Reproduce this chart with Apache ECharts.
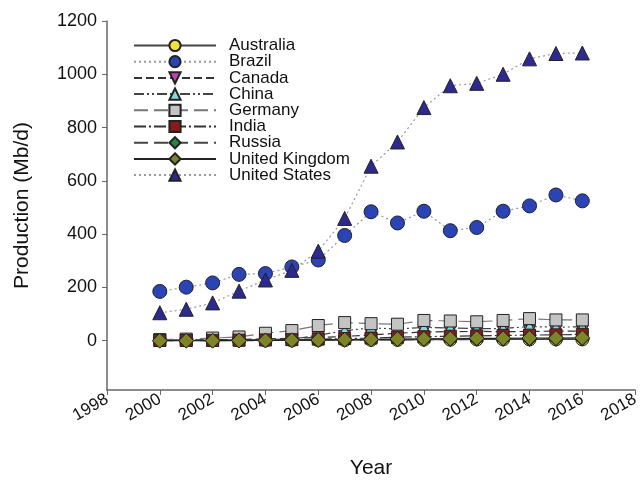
<!DOCTYPE html>
<html>
<head>
<meta charset="utf-8">
<script src="https://cdn.jsdelivr.net/npm/echarts@6/dist/echarts.min.js"></script>
<style>
html, body { margin: 0; padding: 0; background: #fff; }
#chart { width: 642px; height: 484px; }
</style>
</head>
<body>
<div id="chart"></div>
<script>
// production by country, Mb/d
const years = [2000, 2001, 2002, 2003, 2004, 2005, 2006, 2007, 2008, 2009, 2010, 2011, 2012, 2013, 2014, 2015, 2016];
const australia = [1, 1, 1, 1, 1, 1, 2, 2, 3, 3, 4, 4, 5, 5, 5, 5, 5];
const brazil = [185, 201, 217, 249, 252, 277, 303, 395, 484, 442, 486, 413, 425, 486, 506, 547, 525];
const canada = [2, 3, 4, 5, 7, 9, 12, 16, 22, 28, 33, 34, 35, 34, 35, 36, 36];
const china = [1, 1, 2, 3, 4, 6, 20, 38, 48, 44, 50, 48, 45, 46, 53, 51, 52];
const germany = [4, 6, 10, 14, 28, 38, 57, 68, 64, 62, 76, 74, 71, 76, 83, 78, 78];
const india = [1, 1, 1, 2, 3, 4, 6, 8, 10, 13, 15, 17, 18, 20, 21, 22, 24];
const russia = [0, 0, 0, 0, 1, 1, 2, 2, 3, 3, 4, 4, 5, 5, 5, 5, 6];
const unitedKingdom = [0, 0, 0, 1, 1, 2, 3, 4, 5, 6, 7, 8, 9, 9, 10, 10, 11];
const unitedStates = [105, 118, 142, 186, 228, 264, 336, 459, 655, 746, 875, 957, 966, 1000, 1058, 1078, 1080];
const yTicks = [0, 200, 400, 600, 800, 1000, 1200];

const font = '"Liberation Sans", Arial, sans-serif';

function pairs(vals) {
    return years.map((y, i) => [y, vals[i]]);
}

function makeSeries(name, vals, symbol, size, fill, lineColor, lineType, rotate) {
    return {
        name: name,
        type: 'line',
        data: pairs(vals),
        symbol: symbol,
        symbolSize: size,
        symbolRotate: rotate || 0,
        itemStyle: { color: fill, borderColor: '#222', borderWidth: 1 },
        lineStyle: { color: lineColor, width: 1.2, type: lineType },
        emphasis: { disabled: true },
        animation: false
    };
}

const chart = echarts.init(document.getElementById('chart'));
chart.setOption({
    backgroundColor: '#fff',
    textStyle: { fontFamily: font },
    grid: { left: 107, right: 6, top: 21, bottom: 92 },
    legend: {
        orient: 'vertical',
        left: 128,
        top: 32,
        itemWidth: 82,
        itemHeight: 14,
        itemGap: -0.8,
        textStyle: { fontFamily: font, fontSize: 17, color: '#111', lineHeight: 16.3, padding: [0, 0, 0, 8] }
    },
    xAxis: {
        type: 'value',
        min: 1998,
        max: 2018,
        interval: 2,
        name: 'Year',
        nameLocation: 'middle',
        nameGap: 68,
        nameTextStyle: { fontFamily: font, fontSize: 21, color: '#111' },
        splitLine: { show: false },
        axisLine: { onZero: false, lineStyle: { color: '#666', width: 1.5 } },
        axisTick: { length: 5, lineStyle: { color: '#666' } },
        axisLabel: {
            rotate: 30,
            margin: 8,
            fontFamily: font,
            fontSize: 17,
            color: '#111',
            formatter: v => String(v)
        }
    },
    yAxis: {
        type: 'value',
        min: -185,
        max: 1200,
        name: 'Production (Mb/d)',
        nameLocation: 'middle',
        nameGap: 74,
        nameTextStyle: { fontFamily: font, fontSize: 21, color: '#111' },
        splitLine: { show: false },
        axisLine: { show: true, lineStyle: { color: '#666', width: 1.5 } },
        axisTick: { show: true, length: 5, customValues: yTicks, lineStyle: { color: '#666' } },
        axisLabel: {
            customValues: yTicks,
            margin: 10,
            fontFamily: font,
            fontSize: 18,
            color: '#111',
            formatter: v => String(v)
        }
    },
    series: [
        makeSeries('Australia', australia, 'circle', 13, '#f2e33a', '#444', 'solid'),
        makeSeries('Brazil', brazil, 'circle', 14, '#2b44b5', '#999', [2, 3]),
        makeSeries('Canada', canada, 'triangle', 12, '#c83fae', '#333', [8, 4], 180),
        makeSeries('China', china, 'triangle', 12, '#86d8d8', '#444', [10, 3, 2, 3, 2, 3]),
        makeSeries('Germany', germany, 'rect', 12, '#c4c4c4', '#777', [14, 6]),
        makeSeries('India', india, 'rect', 12, '#8a1a1a', '#333', [12, 3, 2, 3]),
        makeSeries('Russia', russia, 'diamond', 14, '#1f8a3c', '#444', [14, 6]),
        makeSeries('United Kingdom', unitedKingdom, 'diamond', 15, '#7d8526', '#222', 'solid'),
        makeSeries('United States', unitedStates, 'triangle', 14, '#2c2a8c', '#999', [2, 3])
    ]
});
</script>
</body>
</html>
